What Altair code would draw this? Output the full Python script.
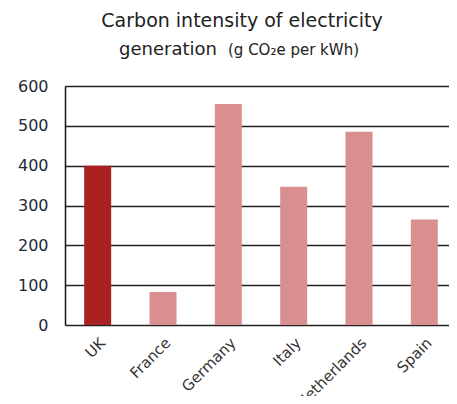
import altair as alt
import pandas as pd

countries = ["UK", "France", "Germany", "Italy", "Netherlands", "Spain"]
intensity = [400, 83, 555, 347, 485, 265]
highlight = ["UK"]
y_ticks = [0, 100, 200, 300, 400, 500, 600]
title_line1 = "Carbon intensity of electricity"
title_line2a = "generation"
title_line2b = "(g CO\u2082e per kWh)"

df = pd.DataFrame({"country": countries, "intensity": intensity})
FONT = "DejaVu Sans"

bars = alt.Chart(df).mark_bar(size=27).encode(
    x=alt.X(
        "country:N",
        sort=countries,
        scale=alt.Scale(paddingInner=0, paddingOuter=0, range=[0, 392]),
        axis=alt.Axis(
            title=None, labelAngle=-45, labelFontSize=15, labelColor="#333",
            labelFont=FONT, labelPadding=10, ticks=False, domain=False,
        ),
    ),
    y=alt.Y(
        "intensity:Q",
        scale=alt.Scale(domain=[0, 600], nice=False),
        axis=alt.Axis(
            title=None, values=y_ticks, grid=True, gridColor="#222",
            gridWidth=1.3, ticks=False, domainColor="#111", domainWidth=1.5,
            labelFontSize=16, labelFont=FONT, labelColor="#1e2a3a",
            labelPadding=17,
        ),
    ),
    color=alt.condition(
        alt.FieldOneOfPredicate(field="country", oneOf=highlight),
        alt.value("#AA1F1F"),
        alt.value("#D98F8F"),
    ),
)

one = alt.Data(values=[{"k": 1}])
t1 = alt.Chart(one).mark_text(
    font=FONT, fontSize=19, color="#222", align="center", baseline="alphabetic"
).encode(x=alt.value(177), y=alt.value(-59), text=alt.value(title_line1))
t2 = alt.Chart(one).mark_text(
    font=FONT, fontSize=18, color="#222", align="left", baseline="alphabetic"
).encode(x=alt.value(54), y=alt.value(-31), text=alt.value(title_line2a))
t3 = alt.Chart(one).mark_text(
    font=FONT, fontSize=15, color="#222", align="left", baseline="alphabetic"
).encode(x=alt.value(163), y=alt.value(-31), text=alt.value(title_line2b))

chart = alt.layer(bars, t1, t2, t3).properties(
    width=384,
    height=239,
    autosize=alt.AutoSizeParams(type="none"),
    padding={"left": 57, "top": 78, "right": 0, "bottom": 71},
).configure_view(stroke=None).configure(background="white")

chart.save("out.html", embed_options={"renderer": "svg", "actions": False})
